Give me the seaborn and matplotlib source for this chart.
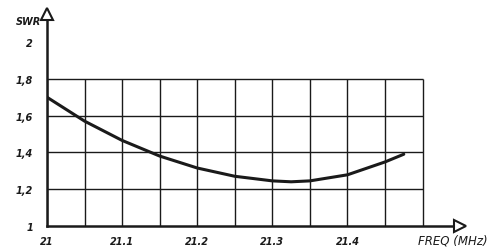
import numpy as np
import pandas as pd
import matplotlib
matplotlib.use("Agg")
import matplotlib.pyplot as plt
import seaborn as sns

# =====================================================
# DATA
# =====================================================

freq = [21.0, 21.05, 21.1, 21.15, 21.2, 21.25, 21.3, 21.325, 21.35, 21.4, 21.45, 21.475]
swr = [1.70, 1.57, 1.465, 1.38, 1.315, 1.27, 1.245, 1.24, 1.245, 1.278, 1.348, 1.39]

x_ticks = [21.0, 21.1, 21.2, 21.3, 21.4]
x_tick_labels = ["21", "21.1", "21.2", "21.3", "21.4"]
y_ticks = [1.0, 1.2, 1.4, 1.6, 1.8, 2.0]
y_tick_labels = ["1", "1,2", "1,4", "1,6", "1,8", "2"]

grid_x = [21.0, 21.05, 21.1, 21.15, 21.2, 21.25, 21.3, 21.35, 21.4, 21.45, 21.5]
grid_y = [1.2, 1.4, 1.6, 1.8]

df = pd.DataFrame({"freq": freq, "swr": swr})

# =====================================================
# STYLE
# =====================================================

sns.set_style("white")
plt.rcParams["font.family"] = ["DejaVu Sans"]

ink = "#1a1a1a"

fig = plt.figure(figsize=(4.9, 2.51), dpi=100)
ax = fig.add_axes([0.096, 0.096, 0.843, 0.845])

# =====================================================
# GRID
# =====================================================

ax.vlines(grid_x, 1.0, 1.8, color=ink, lw=1.0, zorder=1)
ax.hlines(grid_y, 21.0, 21.5, color=ink, lw=1.0, zorder=1)

# =====================================================
# CURVE
# =====================================================

sns.lineplot(
    data=df,
    x="freq",
    y="swr",
    color=ink,
    lw=2.2,
    ax=ax,
    zorder=3
)

# =====================================================
# AXES
# =====================================================

ax.set_xlim(21.0, 21.55)
ax.set_ylim(1.0, 2.154)

for s in ["top", "right"]:
    ax.spines[s].set_visible(False)
for s in ["left", "bottom"]:
    ax.spines[s].set_color(ink)
    ax.spines[s].set_linewidth(1.8)

# arrow heads
ax.plot(0, 1, marker="^", ms=8, color=ink, mfc="white", mew=1.5,
        transform=ax.transAxes, clip_on=False, zorder=5)
ax.plot(1, 0, marker=">", ms=8, color=ink, mfc="white", mew=1.5,
        transform=ax.transAxes, clip_on=False, zorder=5)

ax.set_xticks(x_ticks)
ax.set_xticklabels(x_tick_labels, fontsize=7, fontweight="bold", fontstyle="italic")
ax.set_yticks(y_ticks)
ax.set_yticklabels(y_tick_labels, fontsize=7, fontweight="bold", fontstyle="italic")
ax.tick_params(axis="x", length=0, pad=7, colors=ink)
ax.tick_params(axis="y", length=0, pad=10, colors=ink)

ax.set_xlabel("")
ax.set_ylabel("")

ax.text(-0.045, 0.965, "SWR", transform=ax.transAxes, fontsize=7,
        fontweight="bold", fontstyle="italic", ha="center", va="center", color=ink)
fig.text(0.995, 0.04, "FREQ (MHz)", fontsize=8.5, fontstyle="italic",
         ha="right", va="center", color=ink)

plt.savefig("out.png", dpi=100)
